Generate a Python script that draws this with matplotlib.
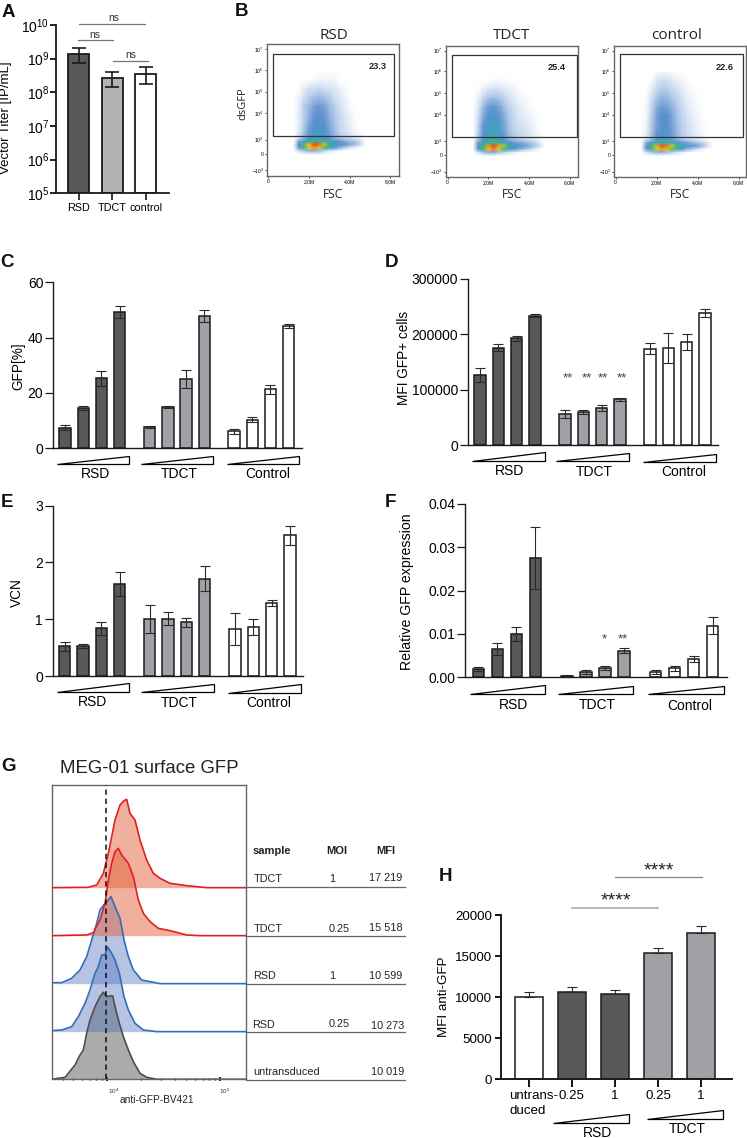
import numpy as np
import matplotlib
matplotlib.use("Agg")
import matplotlib.pyplot as plt
from matplotlib.colors import LinearSegmentedColormap
from matplotlib.patches import Polygon, Rectangle

plt.rcParams['font.family'] = ['Liberation Sans', 'DejaVu Sans']
plt.rcParams['mathtext.default'] = 'regular'

# ---------- data ----------
A_labels = ["RSD", "TDCT", "control"]
A_vals = [1.35e9, 2.6e8, 3.6e8]
A_hi = [2.1e9, 4.1e8, 5.8e8]
A_lo = [7.4e8, 1.4e8, 1.77e8]

C_vals = [7.4, 14.5, 25.2, 49.2, 7.6, 14.8, 25.0, 47.8, 6.0, 10.2, 21.2, 44.2]
C_err = [1.0, 0.7, 2.8, 2.2, 0.5, 0.3, 3.2, 2.1, 0.8, 0.9, 1.6, 0.6]
D_vals = [127000, 176000, 193000, 234000, 56000, 60000, 67000, 83000, 174000, 175000, 186000, 238000]
D_err = [12000, 6000, 5000, 2000, 7000, 3000, 5000, 3000, 10000, 27000, 14000, 7000]
E_vals = [0.52, 0.53, 0.84, 1.62, 1.0, 1.01, 0.95, 1.71, 0.83, 0.86, 1.29, 2.48]
E_err = [0.08, 0.04, 0.11, 0.21, 0.25, 0.12, 0.08, 0.22, 0.28, 0.14, 0.05, 0.17]
F_vals = [0.0019, 0.0065, 0.0100, 0.0275, 0.0004, 0.0012, 0.0021, 0.0061, 0.0012, 0.0021, 0.0043, 0.0119]
F_err = [0.0005, 0.0013, 0.0017, 0.0072, 0.0002, 0.0004, 0.0004, 0.0006, 0.0004, 0.0006, 0.0007, 0.0020]
H_vals = [10050, 10650, 10400, 15450, 17900]
H_err = [600, 550, 450, 600, 750]
H_labels = ["", "0.25", "1", "0.25", "1"]
group_names = ["RSD", "TDCT", "Control"]

# flow density tables: rows = dsGFP display level, columns = FSC in millions
B_fsc = [1.25, 1.5, 1.75, 2.0, 2.25, 2.5, 2.75, 3.0, 3.25, 3.5, 3.75, 4.0, 4.25, 4.5, 4.75]
B_gfp = [6.0, 5.6, 5.2, 4.8, 4.4, 4.0, 3.6, 3.2, 2.9, 2.75, 2.6, 2.45, 2.3, 2.15]
B_rsd = [
    [0, 0, 0, 0, 0, 0, 0, 0, 0, 0, 0, 0, 0, 0, 0],
    [0, 0, 0, 0, .2, .3, .3, .3, .3, 0, 0, 0, 0, 0, 0],
    [0, 0, .5, 1, 1, 1.2, 1, 1, .8, .4, .2, 0, 0, 0, 0],
    [0, .3, 1, 1.5, 1.8, 2, 1.8, 1.5, 1, .8, .4, .1, 0, 0, 0],
    [0, .5, 1.5, 2, 2.5, 2.7, 2.5, 2, 1.5, 1, .6, .2, 0, 0, 0],
    [0, .6, 1.5, 2.2, 2.8, 3, 2.8, 2.2, 1.7, 1.2, .8, .4, .1, 0, 0],
    [0, .6, 1.5, 2.4, 3, 3.3, 3, 2.4, 1.8, 1.3, .9, .5, .2, 0, 0],
    [0, .7, 1.8, 2.8, 3.4, 3.6, 3.2, 2.6, 2, 1.4, 1, .6, .3, 0, 0],
    [0, 1, 2.2, 3, 3.6, 3.6, 3.2, 2.8, 2.2, 1.8, 1.4, 1.2, .8, .5, 0],
    [0, 2.5, 3.6, 4, 4.6, 4.6, 4.2, 3.6, 3.2, 2.8, 2.4, 2, 1.8, 1.2, 0],
    [0, 3, 5, 7, 8.5, 8, 6.5, 5, 4, 3.4, 3, 2.5, 2, 1.4, 0],
    [0, 2.8, 4.5, 6.5, 7.5, 6.5, 5, 4, 3, 2.2, 1.5, .8, .3, 0, 0],
    [0, 1, 1.8, 2.2, 2.4, 2, 1.4, .8, .4, .2, 0, 0, 0, 0, 0],
    [0, 0, 0, 0, 0, 0, 0, 0, 0, 0, 0, 0, 0, 0, 0],
]
B_tdct = [
    [0, 0, 0, 0, 0, 0, 0, 0, 0, 0, 0, 0, 0, 0, 0],
    [0, 0, 0, 0, .1, .2, .1, .1, 0, 0, 0, 0, 0, 0, 0],
    [0, .1, .6, .9, 1, 1, .8, .6, .4, .1, 0, 0, 0, 0, 0],
    [0, .4, 1.2, 1.8, 1.9, 1.8, 1.4, 1, .7, .4, .2, .1, 0, 0, 0],
    [0, .8, 2, 2.7, 2.9, 2.6, 2, 1.4, 1, .6, .4, .2, .1, 0, 0],
    [0, 1, 2.4, 3.2, 3.3, 3, 2.4, 1.7, 1.2, .8, .6, .4, .2, 0, 0],
    [0, 1.2, 2.8, 3.4, 3.6, 3.4, 2.6, 1.8, 1.3, 1, .8, .6, .3, .1, 0],
    [0, 1.4, 3, 3.6, 4, 3.7, 2.8, 2, 1.5, 1.2, 1, .8, .4, .2, 0],
    [0, 1.8, 3.2, 3.8, 4.2, 3.8, 3, 2.3, 1.8, 1.5, 1.2, 1, .7, .3, 0],
    [0, 2.8, 3.8, 4.4, 4.8, 4.4, 3.8, 3.2, 2.8, 2.5, 2.2, 1.8, 1.4, .8, 0],
    [0, 3.2, 5, 7.5, 8.5, 7.5, 6, 4.8, 3.8, 3.2, 2.8, 2.4, 1.8, 1.2, 0],
    [0, 3, 4.8, 7, 7.8, 6.5, 5, 3.8, 3, 2.4, 2, 1.4, .8, .3, 0],
    [0, 1, 2, 2.4, 2.5, 2, 1.5, 1, .5, .3, .1, 0, 0, 0, 0],
    [0, 0, 0, 0, 0, 0, 0, 0, 0, 0, 0, 0, 0, 0, 0],
]
B_ctrl = [
    [0, 0, 0, .2, .3, .3, .2, .1, 0, 0, 0, 0, 0, 0, 0],
    [0, 0, .2, .8, 1, 1, .8, .5, .3, .1, 0, 0, 0, 0, 0],
    [0, 0, .6, 1.3, 1.6, 1.6, 1.2, 1, .7, .3, .2, 0, 0, 0, 0],
    [0, .2, 1, 1.8, 2.2, 2.1, 1.7, 1.3, .9, .5, .3, .1, 0, 0, 0],
    [0, .3, 1.3, 2.3, 2.7, 2.6, 2.2, 1.6, 1.1, .7, .4, .2, .1, 0, 0],
    [0, .3, 1.5, 2.6, 3.1, 3, 2.5, 1.8, 1.3, .9, .5, .3, .1, 0, 0],
    [0, .4, 1.6, 2.6, 3.2, 3, 2.5, 1.9, 1.4, 1, .7, .4, .2, 0, 0],
    [0, .5, 1.8, 2.8, 3.4, 3.2, 2.7, 2, 1.5, 1.1, .8, .5, .2, 0, 0],
    [0, .8, 2, 3, 3.5, 3.4, 2.8, 2.2, 1.7, 1.3, 1, .7, .4, .1, 0],
    [0, 2.4, 3.4, 4, 4.4, 4.3, 3.8, 3.3, 2.8, 2.4, 2, 1.6, 1.2, .6, 0],
    [0, 3, 5, 7.2, 8.4, 7.8, 6.5, 5, 4, 3.4, 3, 2.5, 1.9, 1, 0],
    [0, 2.8, 4.6, 6.5, 7.4, 6.6, 5.2, 4, 3, 2.2, 1.5, .9, .4, 0, 0],
    [0, 1, 1.8, 2.2, 2.4, 2, 1.5, .9, .4, .2, 0, 0, 0, 0, 0],
    [0, 0, 0, 0, 0, 0, 0, 0, 0, 0, 0, 0, 0, 0, 0],
]
B_titles = ["RSD", "TDCT", "control"]
B_pct = ["23.3", "25.4", "22.6"]

# histogram traces: channel on the display axis, height above each baseline
G_ctrl_x = [155, 195, 205, 225, 240, 250, 260, 270, 285, 300, 310, 320, 328, 338, 345, 358, 370, 385, 400, 420, 440, 470, 738]
G_ctrl_h = [0, 6, 18, 43, 73, 88, 138, 178, 218, 248, 261, 248, 250, 250, 218, 168, 128, 88, 53, 18, 6, 0, 0]
G_rsd025_x = [155, 185, 215, 235, 255, 270, 285, 295, 305, 315, 322, 335, 345, 358, 372, 385, 405, 430, 470, 738]
G_rsd025_h = [3, 5, 15, 45, 85, 125, 175, 195, 230, 230, 255, 235, 215, 175, 105, 65, 25, 5, 0, 0]
G_rsd1_x = [155, 185, 215, 240, 260, 275, 290, 300, 315, 325, 333, 345, 360, 372, 385, 400, 425, 480, 738]
G_rsd1_h = [3, 3, 16, 41, 81, 131, 181, 221, 241, 251, 261, 231, 196, 131, 81, 41, 11, 0, 0]
G_tdct025_x = [155, 260, 280, 300, 315, 325, 335, 345, 355, 365, 385, 400, 415, 430, 450, 475, 510, 560, 600, 738]
G_tdct025_h = [0, 2, 9, 47, 97, 167, 217, 252, 262, 242, 217, 177, 107, 67, 42, 22, 15, 2, 0, 0]
G_tdct1_x = [155, 265, 290, 310, 325, 345, 360, 372, 380, 390, 405, 420, 440, 460, 480, 510, 560, 620, 738]
G_tdct1_h = [0, 1, 8, 43, 103, 203, 248, 261, 265, 223, 203, 143, 83, 43, 28, 13, 6, 0, 0]
G_rows = [("TDCT", "1", "17 219"), ("TDCT", "0.25", "15 518"), ("RSD", "1", "10 599"),
          ("RSD", "0.25", "10 273"), ("untransduced", "", "10 019")]

# ---------- layout helpers ----------
W, H = 747, 1138
fig = plt.figure(figsize=(W / 100, H / 100), dpi=100, facecolor='white')
ov = fig.add_axes([0, 0, 1, 1], zorder=20)
ov.set_xlim(0, W); ov.set_ylim(H, 0); ov.axis('off'); ov.patch.set_alpha(0)


def mk(x0, top, x1, bot):
    ax = fig.add_axes([x0 / W, 1 - bot / H, (x1 - x0) / W, (bot - top) / H])
    ax.set_xlim(0, x1 - x0)
    ax.patch.set_alpha(0)
    return ax


def T(x, y, s, size=9, ha='center', va='center', **k):
    return ov.text(x, y, s, fontsize=size, ha=ha, va=va, **k)


def Z(ox, oy, zx, zy):
    return ox + zx / 3, oy + zy / 3


def tri(ox, oy, zx0, zx1, zbot, ztop):
    pts = [Z(ox, oy, zx0, zbot), Z(ox, oy, zx1, zbot), Z(ox, oy, zx1, ztop)]
    ov.add_patch(Polygon(pts, closed=True, fc='white', ec='black', lw=0.9))


DARK, MID = '#595959', '#a0a0a6'
COL12 = [DARK] * 4 + [MID] * 4 + ['white'] * 4


def bars(ax, xs, vals, errs, cols, w, both=True):
    lower = errs if both else [0] * len(errs)
    ax.bar(xs, vals, width=w, color=cols, edgecolor='#1a1a1a', linewidth=1.1, zorder=2)
    ax.errorbar(xs, vals, yerr=[lower, errs], fmt='none', ecolor='#2a2a2a', elinewidth=0.8,
                capsize=3.4, capthick=0.8, zorder=3)


def style(ax, lw=1.0):
    for s in ('top', 'right'):
        ax.spines[s].set_visible(False)
    for s in ('left', 'bottom'):
        ax.spines[s].set_linewidth(lw)
        ax.spines[s].set_color('#1a1a1a')


def group_panel(box, starts, spacing, w, vals, errs, yticks, ylabels, ymax):
    ax = mk(*box)
    xs = [s + i * spacing for s in starts for i in range(4)]
    bars(ax, xs, vals, errs, COL12, w)
    ax.set_ylim(0, ymax)
    ax.set_yticks(yticks); ax.set_yticklabels(ylabels)
    ax.set_xticks([])
    ax.tick_params(axis='y', labelsize=10, length=5.5, width=0.9, pad=1.5, color='#1a1a1a')
    style(ax)
    return ax


# ---------- A ----------
axA = mk(56.3, 25, 169.3, 193.3)
xa = [22.4, 56, 89.4]
axA.set_yscale('log')
axA.bar(xa, np.array(A_vals) - 1e5, bottom=1e5, width=20.7, color=[DARK, '#b3b3b3', 'white'],
        edgecolor='#1a1a1a', linewidth=1.3, zorder=2)
axA.errorbar(xa, A_vals, yerr=[np.array(A_vals) - np.array(A_lo), np.array(A_hi) - np.array(A_vals)],
             fmt='none', ecolor='#1a1a1a', elinewidth=1.2, capsize=5.2, capthick=1.2, zorder=3)
axA.set_ylim(1e5, 1e10)
axA.set_yticks([10.0 ** e for e in range(5, 11)])
axA.set_yticklabels([f"$10^{{{e}}}$" for e in range(5, 11)])
axA.minorticks_off()
axA.set_xticks(xa); axA.set_xticklabels(A_labels)
axA.tick_params(axis='y', labelsize=10, length=4, width=1.2, pad=1)
axA.tick_params(axis='x', labelsize=7.8, length=5, width=1.1, pad=2)
style(axA, 1.3)
T(6, 118, "Vector Titer [IP/mL]", 9.5, rotation=90)
for a, b, yy, tx, ty in [(238, 434, 71, 340, 53), (235, 339, 121, 284, 105), (340, 443, 183, 391, 166)]:
    ov.plot([a / 3, b / 3], [yy / 3, yy / 3], color='#777777', lw=0.9)
    T(tx / 3, ty / 3, "ns", 7.5, color='#333333')

# ---------- B ----------
flow_cmap = LinearSegmentedColormap.from_list('flow', [
    (0, '#ffffff'), (.08, '#dfe9f6'), (.2, '#a9c4e6'), (.33, '#5e8fd0'), (.43, '#3aa5c0'),
    (.55, '#3cb878'), (.68, '#b8d430'), (.78, '#f5c518'), (.88, '#f07020'), (1, '#e02020')])
B_boxes = [(112, 507, 133, 527, 115, 237, 130, 493, 162, 409, 442, 200, 313),
           (648, 1045, 137, 531, 653, 775, 667, 1040, 165, 412, 980, 204, 845),
           (1153, 1547, 137, 531, 1157, 1280, 1171, 1540, 163, 410, 1485, 203, 1340)]
B_tables = [B_rsd, B_tdct, B_ctrl]
for bb, tab, title, pct in zip(B_boxes, B_tables, B_titles, B_pct):
    zl, zr, zt, zb, z0, z2, gl, gr, gt, gb, px, py, tx = bb
    x0, y0 = Z(230, 0, zl, zt); x1, y1 = Z(230, 0, zr, zb)
    ax = fig.add_axes([x0 / W, 1 - y1 / H, (x1 - x0) / W, (y1 - y0) / H])
    per_m = (z2 - z0) / 2
    fx = lambda z: (z - z0) / per_m
    fy = lambda z: 7 - (z - (zt + 15)) / 65
    ax.set_xlim(fx(zl), fx(zr)); ax.set_ylim(fy(zb), fy(zt))
    ax.pcolormesh(B_fsc, B_gfp, np.array(tab), cmap=flow_cmap, vmin=0, vmax=9, shading='gouraud', zorder=1)
    ax.add_patch(Rectangle((fx(gl), fy(gb)), fx(gr) - fx(gl), fy(gt) - fy(gb), fc='none', ec='#333333', lw=0.9, zorder=3))
    ax.set_xticks([0, 2, 4, 6]); ax.set_xticklabels(["0", "2,0M", "4,0M", "6,0M"])
    ax.set_yticks([7, 6.05, 5.05, 4.05, 2.83, 2.17, 1.42])
    ax.set_yticklabels(["$10^7$", "$10^6$", "$10^5$", "$10^4$", "$10^3$", "0", "$-10^3$"])
    ax.tick_params(labelsize=3.6, length=1.5, width=0.5, pad=1)
    for s in ax.spines.values():
        s.set_color('#666666'); s.set_linewidth(1.0)
    ax.text(fx(px), fy(py), pct, fontsize=6.6, fontweight='bold', ha='center', va='center', zorder=4, color='#222222')
    T(230 + tx / 3, 35, title, 11, family=['Open Sans', 'DejaVu Sans'], color='#222222')
    T(230 + (zl + zr) / 6, 194, "FSC", 8.6, family=['Open Sans', 'DejaVu Sans'], color='#222222')
T(230 + 38 / 3, 104, "dsGFP", 8, rotation=90, family=['Open Sans', 'DejaVu Sans'], color='#222222')

# ---------- C, D, E, F ----------
axC = group_panel((53, 282.3, 302, 448), [12, 96.7, 181], 18.2, 11.3, C_vals, C_err,
                  [0, 20, 40, 60], ["0", "20", "40", "60"], 60)
T(18, 366, "GFP[%]", 9.8, rotation=90)
for a, b, yb, yt in [(172, 388, 641, 617), (423, 640, 641, 617), (682, 898, 643, 618)]:
    tri(0, 250, a, b, yb, yt)
for (zx, zy), name in zip([(285, 671), (538, 673), (802, 673)], group_names):
    T(*Z(0, 250, zx, zy), name, 10)

axD = group_panel((468, 279, 718, 445.3), [12, 97, 182], 18.3, 11.3, D_vals, D_err,
                  [0, 100000, 200000, 300000], ["0", "100000", "200000", "300000"], 300000)
T(404, 358, "MFI GFP+ cells", 9.8, rotation=90)
for a, b, yb, yt in [(306, 525, 634, 607), (559, 777, 634, 609), (820, 1037, 635, 611)]:
    tri(370, 250, a, b, yb, yt)
for (zx, zy), name in zip([(420, 663), (672, 665), (940, 666)], group_names):
    T(*Z(370, 250, zx, zy), name, 10)
for zx in (593, 650, 700, 757):
    T(*Z(370, 250, zx, 384), "**", 9.5, color='#444444')

axE = group_panel((52.7, 505.7, 303, 676), [12, 97, 182.3], 18.3, 11.3, E_vals, E_err,
                  [0, 1, 2, 3], ["0", "1", "2", "3"], 3)
T(17, 593, "VCN", 9.8, rotation=90)
for a, b, yb, yt in [(172, 388, 606, 580), (424, 641, 607, 581), (685, 902, 608, 583)]:
    tri(0, 490, a, b, yb, yt)
for (zx, zy), name in zip([(278, 636), (538, 638), (805, 639)], group_names):
    T(*Z(0, 490, zx, zy), name, 10)

axF = group_panel((465.3, 503.7, 726.7, 677.3), [13, 101.7, 190.3], 19, 11.3, F_vals, F_err,
                  [0, .01, .02, .03, .04], ["0.00", "0.01", "0.02", "0.03", "0.04"], 0.04)
T(407, 592, "Relative GFP expression", 10.2, rotation=90)
for a, b, yb, yt in [(301, 526, 612, 585), (564, 790, 612, 587), (835, 1061, 613, 588)]:
    tri(370, 490, a, b, yb, yt)
for (zx, zy), name in zip([(432, 645), (682, 645), (960, 647)], group_names):
    T(*Z(370, 490, zx, zy), name, 10)
T(*Z(370, 490, 703, 448), "*", 9.5, color='#444444')
T(*Z(370, 490, 760, 448), "**", 9.5, color='#444444')

# ---------- G ----------
axG = mk(51.7, 785, 246, 1079.3)
axG.set_xlim(155, 738)
axG.set_ylim(0, 883)
base = [0, 143, 287, 431, 575]
traces = [(G_ctrl_x, G_ctrl_h, '#4d4d4d', '#6e6e6e', .58), (G_rsd025_x, G_rsd025_h, '#2f6fb8', '#5272bd', .42),
          (G_rsd1_x, G_rsd1_h, '#2f6fb8', '#5272bd', .42), (G_tdct025_x, G_tdct025_h, '#e01f26', '#e2633c', .5),
          (G_tdct1_x, G_tdct1_h, '#e01f26', '#e2633c', .5)]
for b0, (xs, hs, lc, fc, al) in zip(base, traces):
    hh = np.array(hs) + b0
    axG.fill_between(xs, b0, hh, color=fc, alpha=al, lw=0, zorder=2)
    axG.plot(xs, hh, color=lc, lw=1.2, zorder=3)
axG.axvline(319, color='#111111', lw=1.1, ls=(0, (3.5, 2.5)), zorder=4)
axG.set_yticks([])
axG.set_xticks([322, 660]); axG.set_xticklabels([])
minor = [322 + 338 * np.log10(k * m) for m, rng in ((0.1, range(3, 10)), (1, range(2, 10))) for k in rng]
axG.set_xticks([m for m in minor if 155 < m < 738], minor=True)
axG.tick_params(axis='x', which='major', length=3, width=1.2, direction='inout')
axG.tick_params(axis='x', which='minor', length=1.5, width=0.9, direction='inout')
for s in axG.spines.values():
    s.set_color('#666666'); s.set_linewidth(1.0)
T(*Z(0, 740, 340, 1055), "$10^4$", 4.5, color='#333333')
T(*Z(0, 740, 675, 1055), "$10^5$", 4.5, color='#333333')
T(*Z(0, 740, 470, 1079), "anti-GFP-BV421", 7.3, color='#222222')
T(60, 768, "MEG-01 surface GFP", 13.4, ha='left', color='#222222')
T(*Z(0, 740, 758, 334), "sample", 8, ha='left', fontweight='bold', color='#222222')
T(*Z(0, 740, 1010, 334), "MOI", 8, fontweight='bold', color='#222222')
T(*Z(0, 740, 1157, 334), "MFI", 8, fontweight='bold', color='#222222')
rows_y = [(417, 417, 414), (567, 567, 565), (708, 707, 708), (856, 851, 857), (995, 995, 995)]
rows_x = [760, 760, 760, 757, 760]
mfi_r = [1207, 1207, 1207, 1212, 1213]
line_y = [440, 587, 731, 875, 1020]
for (a, b, c), (ya, yb, yc), xa_, xr, ly in zip(G_rows, rows_y, rows_x, mfi_r, line_y):
    T(*Z(0, 740, xa_, ya), a, 7.8, ha='left', color='#222222')
    if b:
        T(*Z(0, 740, 986, yb), b, 7.8, ha='left', color='#222222')
    T(*Z(0, 740, xr, yc), c, 7.8, ha='right', color='#222222')
    ov.plot([738 / 3, 1215 / 3], [740 + ly / 3] * 2, color='#666666', lw=0.9)

# ---------- H ----------
axH = mk(500.7, 915.3, 732, 1079.3)
xh = [28 + i * 43.1 for i in range(5)]
bars(axH, xh, H_vals, H_err, ['white', DARK, DARK, MID, MID], 28, both=False)
axH.set_ylim(0, 20000)
axH.set_yticks(range(0, 20001, 5000))
axH.set_xticks(xh); axH.set_xticklabels(H_labels)
axH.tick_params(axis='y', labelsize=9.6, length=4.5, width=1.3, pad=1.5)
axH.tick_params(axis='x', labelsize=9.6, length=6, width=1.3, pad=1.5)
style(axH, 1.4)
T(444, 997, "MFI anti-GFP", 9.6, rotation=90)
T(*Z(430, 840, 238, 767), "untrans-", 9.6, ha='left')
T(*Z(430, 840, 238, 812), "duced", 9.6, ha='left')
tri(430, 840, 370, 596, 850, 822)
tri(430, 840, 652, 878, 837, 810)
T(*Z(430, 840, 502, 878), "RSD", 10)
T(*Z(430, 840, 772, 868), "TDCT", 10)
ov.plot(*zip(Z(430, 840, 425, 203), Z(430, 840, 685, 203)), color='#aaaaaa', lw=1.2)
ov.plot(*zip(Z(430, 840, 555, 111), Z(430, 840, 815, 111)), color='#888888', lw=0.9)
T(*Z(430, 840, 557, 184), "****", 14, color='#222222')
T(*Z(430, 840, 686, 92), "****", 14, color='#222222')

# ---------- panel letters ----------
for s, x, y in [("A", 8, 12), ("B", 242, 11), ("C", 7, 262), ("D", 392, 262),
                ("E", 7, 502), ("F", 390, 502), ("G", 8, 766), ("H", 446, 876)]:
    T(x, y, s, 13.5, fontweight='bold', color='#111111')

fig.savefig("out.png", dpi=100)
